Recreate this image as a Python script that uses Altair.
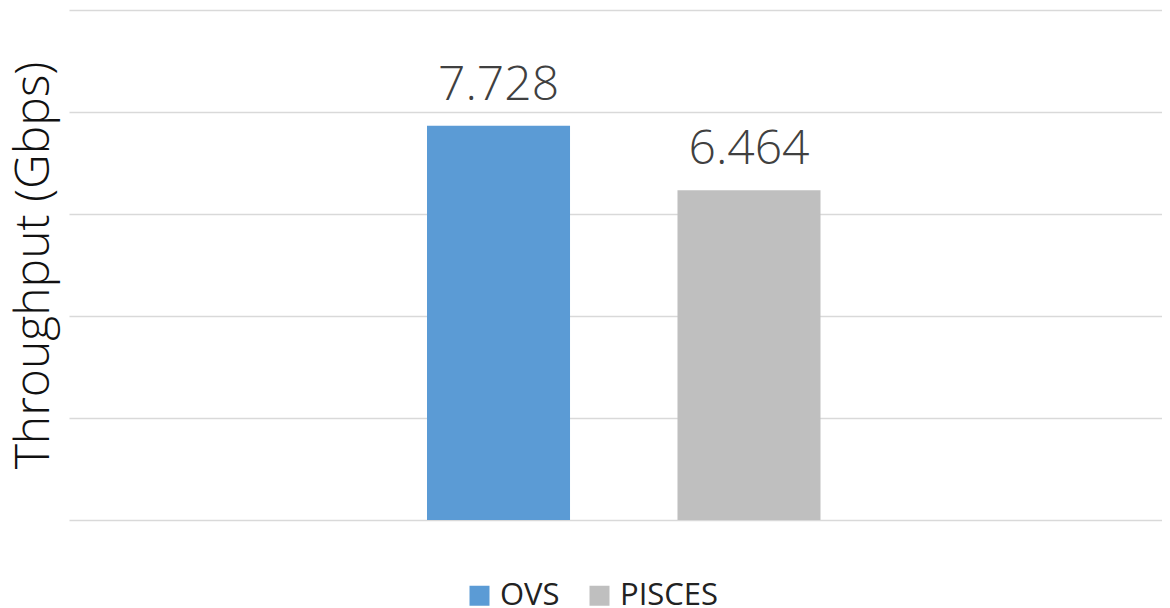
import altair as alt
import pandas as pd

series = ["OVS", "PISCES"]
values = [7.728, 6.464]
colors = ["#5B9BD5", "#BFBFBF"]
y_ticks = [0, 2, 4, 6, 8, 10]

df = pd.DataFrame({"group": ["all"] * len(series), "series": series, "value": values,
                   "label": [f"{v:.3f}" for v in values]})

FONT = "Open Sans"

x = alt.X("group:N", axis=None,
          scale=alt.Scale(paddingInner=0, paddingOuter=0.8888, align=0.5118))
xo = alt.XOffset("series:N",
                 scale=alt.Scale(domain=series, paddingInner=0.429, paddingOuter=0))
y = alt.Y("value:Q", title="Throughput (Gbps)",
          scale=alt.Scale(domain=[0, 10], nice=False),
          axis=alt.Axis(values=y_ticks, labels=False, ticks=False, domain=False,
                        grid=True, gridColor="#D9D9D9", gridWidth=1.5,
                        titleFont=FONT, titleFontSize=48, titleFontWeight=300,
                        titleColor="#111111", titlePadding=11))

bars = alt.Chart(df).mark_bar().encode(
    x=x, xOffset=xo, y=y,
    color=alt.Color("series:N",
                    scale=alt.Scale(domain=series, range=colors),
                    legend=alt.Legend(title=None, orient="none", legendX=395, legendY=570,
                                      direction="horizontal", symbolType="square",
                                      symbolSize=400, symbolStrokeWidth=0,
                                      labelFont=FONT, labelFontSize=31, labelColor="#222222",
                                      labelOffset=5, columnPadding=24, padding=0,
                                      labelLimit=300))
)

text = alt.Chart(df).mark_text(font=FONT, fontSize=48, fontWeight=300, color="#404040",
                               baseline="alphabetic", dy=-26).encode(
    x=x, xOffset=xo, y=alt.Y("value:Q"), text="label:N")

chart = (bars + text).properties(
    width=1093, height=510,
    autosize=alt.AutoSizeParams(type="none"),
    padding={"left": 61, "top": 2, "right": 0, "bottom": 88},
).configure_view(stroke=None)

chart.save("out.html", embed_options={"renderer": "svg", "actions": False})
